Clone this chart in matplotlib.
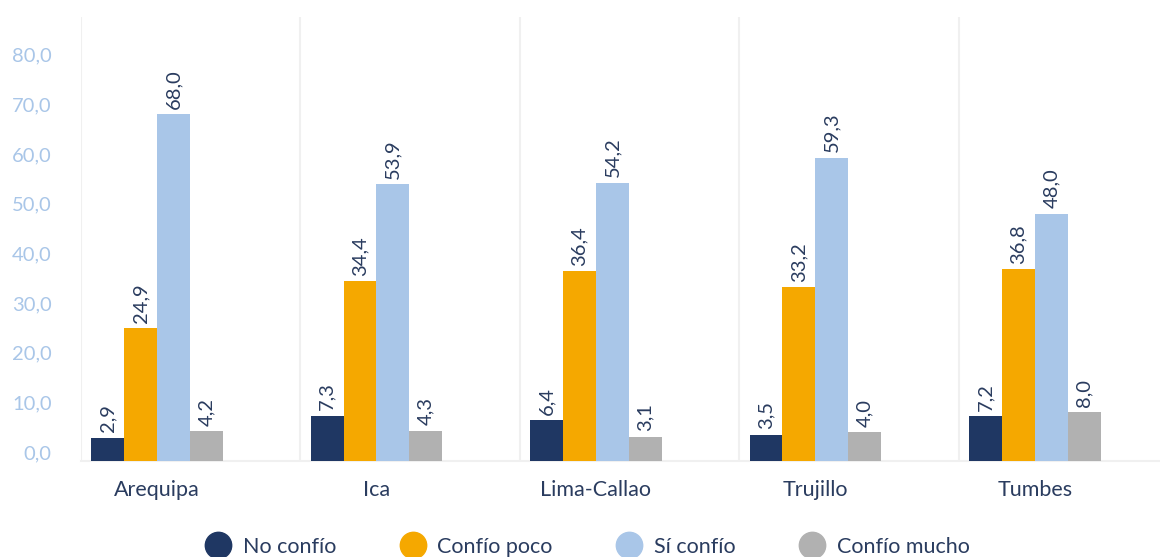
import numpy as np
from matplotlib import pyplot as plt
from matplotlib.lines import Line2D

plt.rcParams['font.family'] = ['Lato', 'DejaVu Sans']

# data
regions = ['Arequipa', 'Ica', 'Lima-Callao', 'Trujillo', 'Tumbes']
series_names = ['No confío', 'Confío poco', 'Sí confío', 'Confío mucho']
no_confio = [2.9, 7.3, 6.4, 3.5, 7.2]
confio_poco = [24.9, 34.4, 36.4, 33.2, 36.8]
si_confio = [68.0, 53.9, 54.2, 59.3, 48.0]
confio_mucho = [4.2, 4.3, 3.1, 4.0, 8.0]
yticks = [0, 10, 20, 30, 40, 50, 60, 70, 80]

colors = ['#1F3763', '#F5A800', '#A9C6E8', '#B1B1B1']
txt = '#2A3C5F'

fig = plt.figure(figsize=(11.6, 5.57), dpi=100)
ax = fig.add_axes([81/1160, 96/557, (1160-81)/1160, 444/557])

ymin = -1.8  # bars start a little below zero, like the original
x = np.arange(len(regions))
w = 0.15
all_series = [no_confio, confio_poco, si_confio, confio_mucho]
for i, vals in enumerate(all_series):
    pos = x + (i - 1.5)*w
    ax.bar(pos, np.array(vals) - ymin, bottom=ymin, width=w, color=colors[i], zorder=3)
    for p, v in zip(pos, vals):
        ax.annotate(f'{v:.1f}'.replace('.', ','), (p, v), xytext=(0, 4),
                    textcoords='offset points', rotation=90, ha='center',
                    va='bottom', fontsize=14.5, color=txt)

# group separators
for i in range(len(regions)):
    ax.axvline(i - 0.346, color='#F0F0F0', lw=1.5, zorder=1)

ax.set_xlim(-0.346, 4.57)
ax.set_ylim(ymin, 87.6)
ax.set_xticks(x)
ax.set_xticklabels(regions, fontsize=15.5, color=txt)
ax.set_yticks(yticks)
ax.set_yticklabels([f'{t:.1f}'.replace('.', ',') for t in yticks],
                   fontsize=14.5, color='#A9C6E8')
ax.tick_params(length=0)
ax.tick_params(axis='x', pad=14)
ax.tick_params(axis='y', pad=21)
for s in ['top', 'right', 'left']:
    ax.spines[s].set_visible(False)
ax.spines['bottom'].set_color('#F0F0F0')
ax.spines['bottom'].set_linewidth(1.5)

handles = [Line2D([], [], marker='o', ls='none', markersize=19,
                  markerfacecolor=c, markeredgecolor=c) for c in colors]
leg = fig.legend(handles, series_names, loc='center', ncol=4,
                 bbox_to_anchor=(0.506, 0.018), frameon=False, fontsize=15.5,
                 handletextpad=0.5, columnspacing=2.9, handlelength=1.3)
for t in leg.get_texts():
    t.set_color(txt)

plt.savefig('out.png', dpi=100)
